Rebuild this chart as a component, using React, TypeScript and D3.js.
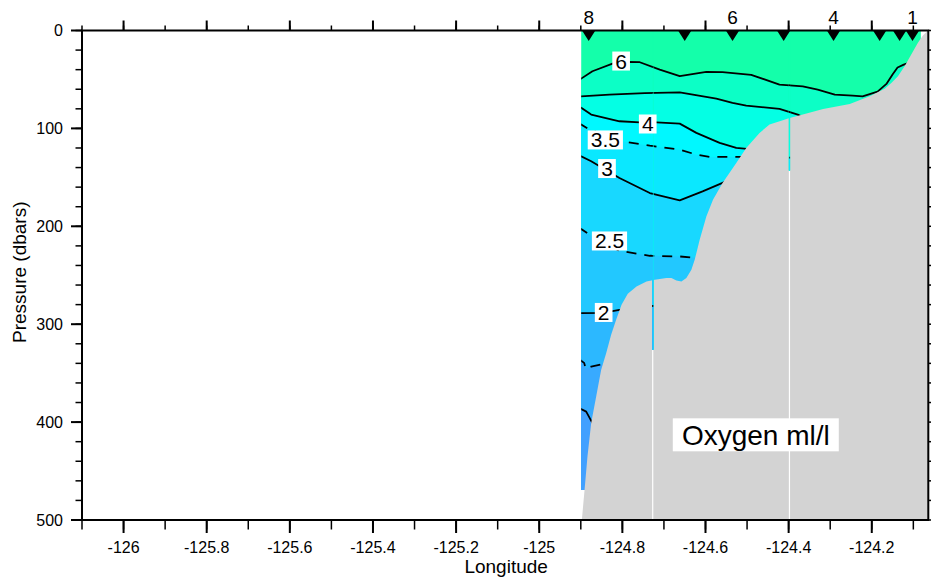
import React from "react";
import * as d3 from "d3";

type Pt = [number, number]; // [longitude, pressure]

// Axis extents
const lonDomain: [number, number] = [-126.1, -124.064];
const pressureDomain: [number, number] = [0, 500];

// CTD stations along the section
const stationLon = [-124.881, -124.65, -124.535, -124.412, -124.292, -124.181, -124.133, -124.102];
const stationId = [8, 7, 6, 5, 4, 3, 2, 1];
const stationLabelled = [8, 6, 4, 1];

// Extent of the gridded section
const sectionLonRange: [number, number] = [-124.899, -124.082];
const sectionMaxPressure = 469.3;

// Oxygen isolines (ml/l), from the offshore edge towards the shelf
const oxygenLevels = [6, 5, 4, 3.5, 3, 2.5, 2, 1.5, 1];

const iso6: Pt[] = [
  [-124.905, 50.5], [-124.899, 49.1], [-124.872, 41.6], [-124.819, 33], [-124.787, 32],
  [-124.758, 32.4], [-124.71, 39.9], [-124.662, 46.7], [-124.598, 42.2], [-124.559, 42.6],
  [-124.49, 45.3], [-124.422, 55.2], [-124.366, 57], [-124.33, 60.3], [-124.289, 65.4],
  [-124.246, 66.5], [-124.222, 67.2], [-124.186, 62.4], [-124.164, 54.2], [-124.15, 45],
  [-124.138, 37.8], [-124.123, 34.8], [-124.109, 32.7],
];
const iso5: Pt[] = [
  [-124.905, 67.5], [-124.831, 65.4], [-124.746, 63.9], [-124.662, 63.1], [-124.574, 69.5],
  [-124.535, 73.9], [-124.502, 76.7], [-124.422, 80.1], [-124.378, 85.9], [-124.369, 87.9],
];
const iso4: Pt[] = [
  [-124.905, 77.5], [-124.899, 79], [-124.875, 85.9], [-124.807, 92.7], [-124.758, 93.8],
  [-124.718, 93.8], [-124.662, 95.1], [-124.622, 104.6], [-124.566, 114.8], [-124.526, 119.9],
  [-124.494, 121.2],
];
const iso35: Pt[] = [
  [-124.905, 94.5], [-124.899, 96.1], [-124.879, 101.2], [-124.799, 113.2], [-124.734, 117.6],
  [-124.662, 121.7], [-124.622, 126.8], [-124.59, 129.1], [-124.518, 129.1], [-124.393, 129.9],
];
const iso3: Pt[] = [
  [-124.905, 127], [-124.899, 128.5], [-124.875, 133.6], [-124.807, 150.6], [-124.734, 166],
  [-124.662, 173.5], [-124.607, 164.3], [-124.559, 155.7], [-124.543, 152.4],
];
const iso25: Pt[] = [
  [-124.905, 201.5], [-124.899, 202.8], [-124.879, 208.6], [-124.807, 225], [-124.734, 230.1],
  [-124.662, 230.8], [-124.621, 232.4], [-124.607, 232.6],
];
const iso2: Pt[] = [
  [-124.905, 288.7], [-124.847, 288.4], [-124.807, 285.3], [-124.758, 282.2], [-124.72, 281.2],
];
const iso15: Pt[] = [
  [-124.905, 335.5], [-124.892, 339.5], [-124.888, 345.6], [-124.875, 343.3], [-124.847, 340.8],
];
const iso1: Pt[] = [
  [-124.905, 385.3], [-124.887, 389.3], [-124.872, 401.1], [-124.865, 407],
];
const isolines = [iso6, iso5, iso4, iso35, iso3, iso25, iso2, iso15, iso1];

// Colour bands between the isolines (ascending oxygen)
const bandBreaks = [1, 1.5, 2, 2.5, 3, 3.5, 4, 5, 6];
const bandColors = [
  "#42a0ff", "#38aaff", "#2cb8ff", "#22c8ff", "#18d8ff",
  "#0ae8ff", "#00f8ff", "#04ffe4", "#0cffc6", "#14ffaa",
];

// Inline contour labels
const contourLabelText = ["6", "4", "3.5", "3", "2.5", "2"];
const contourLabelLon = [-124.803, -124.739, -124.841, -124.837, -124.831, -124.845];
const contourLabelP = [31.2, 95.5, 111.8, 141, 215, 288];

// Sea floor along the section
const bottomProfile: Pt[] = [
  [-124.898, 500], [-124.897, 497.9], [-124.891, 469.3], [-124.884, 435.3], [-124.875, 400.8],
  [-124.863, 373.9], [-124.851, 346.6], [-124.839, 329.6], [-124.827, 310.8], [-124.815, 295.5],
  [-124.802, 280.2], [-124.787, 269], [-124.766, 261.5], [-124.742, 256.3], [-124.722, 254.6],
  [-124.694, 252.9], [-124.682, 252.9], [-124.67, 255.3], [-124.658, 256.3], [-124.646, 252.9],
  [-124.634, 244.4], [-124.626, 234.2], [-124.614, 213.7], [-124.598, 189.9], [-124.582, 172.8],
  [-124.559, 155.7], [-124.526, 135.3], [-124.502, 119.9], [-124.47, 104.6], [-124.446, 96.1],
  [-124.414, 91.7], [-124.398, 89.3], [-124.366, 85.9], [-124.317, 80.1], [-124.253, 75.2],
  [-124.205, 67.2], [-124.169, 59.6], [-124.153, 53.5], [-124.137, 46.7], [-124.121, 36.5],
  [-124.105, 24.5], [-124.089, 12.6], [-124.077, 5.1], [-124.069, 1.7], [-124.064, 0],
  [-124.064, 500],
];

// Single-column gaps in the bottom mask where cast data reaches below it
const castGapLon = [-124.727, -124.398];
const castGapDepth = [326, 143];

const W = 931;
const H = 577;
const FONT = "'Liberation Sans', Arial, Helvetica, sans-serif";

const x = d3.scaleLinear().domain(lonDomain).range([82, 928.3]);
const y = d3.scaleLinear().domain(pressureDomain).range([30.5, 520]);
const band = d3.scaleThreshold<number, string>().domain(bandBreaks).range(bandColors);
const line = d3.line<Pt>().x((d) => x(d[0])).y((d) => y(d[1]));

function bandPath(iso: Pt[]): string {
  const pts: Pt[] = [...iso, [iso[iso.length - 1][0], 500], [iso[0][0], 500]];
  return line(pts) + "Z";
}

function Section() {
  return (
    <g>
      <rect
        x={x(sectionLonRange[0]) - 2}
        y={y(0) - 2}
        width={x(sectionLonRange[1]) - x(sectionLonRange[0]) + 4}
        height={y(sectionMaxPressure) - y(0) + 4}
        fill={band(6.5)}
      />
      {oxygenLevels.map((lvl, i) => (
        <path key={"b" + i} d={bandPath(isolines[i])} fill={band(lvl - 0.01)} />
      ))}
      {oxygenLevels.map((lvl, i) => (
        <path
          key={"l" + i}
          d={line(isolines[i]) || ""}
          fill="none"
          stroke="#000"
          strokeWidth={1.8}
          strokeLinejoin="round"
          strokeDasharray={lvl % 1 !== 0 ? "10 8" : undefined}
        />
      ))}
    </g>
  );
}

export default function App() {
  const x0 = x.range()[0];
  const x1 = x.range()[1];
  const y0 = y.range()[0];
  const y1 = y.range()[1];
  const majorX = x.ticks(10);
  const minorX = x.ticks(20);
  const majorY = y.ticks(5);
  const minorY = y.ticks(25);
  const labelFont = 21;

  return (
    <svg
      width={W}
      height={H}
      style={{ position: "absolute", left: 0, top: 0, background: "#fff" }}
      fontFamily={FONT}
    >
      <defs>
        <clipPath id="sec">
          <rect
            x={x(sectionLonRange[0])}
            y={y(0)}
            width={x(sectionLonRange[1]) - x(sectionLonRange[0])}
            height={y(sectionMaxPressure) - y(0)}
          />
        </clipPath>
        <clipPath id="gaps">
          {castGapLon.map((lon, i) => (
            <rect key={i} x={x(lon) - 0.6} y={y(0)} width={1.2} height={y(castGapDepth[i]) - y(0)} />
          ))}
        </clipPath>
        <clipPath id="plot">
          <rect x={x0} y={y0} width={x1 - x0} height={y1 - y0} />
        </clipPath>
      </defs>

      <g clipPath="url(#sec)">
        <Section />
      </g>

      <g clipPath="url(#plot)">
        <path d={(line(bottomProfile) || "") + "Z"} fill="#d3d3d3" />
        {castGapLon.map((lon, i) => (
          <line
            key={i}
            x1={x(lon)}
            x2={x(lon)}
            y1={y(castGapDepth[i])}
            y2={y(500)}
            stroke="#fff"
            strokeWidth={1.2}
          />
        ))}
      </g>

      <g clipPath="url(#sec)">
        <g clipPath="url(#gaps)">
          <Section />
        </g>
      </g>

      {contourLabelText.map((t, i) => {
        const cx = x(contourLabelLon[i]);
        const cy = y(contourLabelP[i]);
        const wText = t.split("").reduce((s, c) => s + (c === "." ? 0.278 : 0.556), 0) * labelFont;
        return (
          <g key={i}>
            <rect x={cx - wText / 2 - 3} y={cy - 9.5} width={wText + 6} height={19} fill="#fff" />
            <text x={cx} y={cy + 7.5} fontSize={labelFont} textAnchor="middle" fill="#000">
              {t}
            </text>
          </g>
        );
      })}

      <g>
        <rect x={x(-124.479) - 83} y={y(413) - 16.5} width={166} height={33} fill="#fff" />
        <text x={x(-124.479)} y={y(413) + 10.5} fontSize={28} textAnchor="middle" fill="#000">
          Oxygen ml/l
        </text>
      </g>

      {/* axes */}
      <g stroke="#000" strokeWidth={1.5}>
        {minorX.map((v) => (
          <g key={"mx" + v}>
            <line x1={x(v)} x2={x(v)} y1={y0} y2={y0 - 5} />
            <line x1={x(v)} x2={x(v)} y1={y1} y2={y1 + 9.5} />
          </g>
        ))}
        {majorX.map((v) => (
          <g key={"Mx" + v}>
            <line x1={x(v)} x2={x(v)} y1={y0} y2={y0 - 10} strokeWidth={2} />
            <line x1={x(v)} x2={x(v)} y1={y1} y2={y1 + 13} strokeWidth={2} />
          </g>
        ))}
        {minorY.map((v) => (
          <g key={"my" + v}>
            <line x1={x0} x2={x0 - 6.5} y1={y(v)} y2={y(v)} />
            <line x1={x1} x2={x1 + 4} y1={y(v)} y2={y(v)} />
          </g>
        ))}
        {majorY.map((v) => (
          <line key={"My" + v} x1={x0} x2={x0 - 11} y1={y(v)} y2={y(v)} strokeWidth={2} />
        ))}
      </g>
      <rect x={x0} y={y0} width={x1 - x0} height={y1 - y0} fill="none" stroke="#000" strokeWidth={2} />

      <g fontSize={16} fill="#000">
        {majorX.map((v) => (
          <text key={"tx" + v} x={x(v)} y={553} textAnchor="middle">
            {String(+v.toFixed(1))}
          </text>
        ))}
        {majorY.map((v) => (
          <text key={"ty" + v} x={63} y={y(v) + 5.7} textAnchor="end">
            {String(v)}
          </text>
        ))}
      </g>
      <text x={(x0 + x1) / 2 + 1} y={572.5} fontSize={19} textAnchor="middle" fill="#000">
        Longitude
      </text>
      <text
        transform={`translate(26,${(y0 + y1) / 2 - 3}) rotate(-90)`}
        fontSize={19}
        textAnchor="middle"
        fill="#000"
      >
        Pressure (dbars)
      </text>

      {/* stations */}
      {stationLon.map((lon, i) => {
        const sx = x(lon);
        return (
          <g key={"s" + i}>
            <path d={`M${sx - 7},${y0 - 0.5}L${sx + 7},${y0 - 0.5}L${sx},${y0 + 10.5}Z`} fill="#000" />
            {stationLabelled.includes(stationId[i]) && (
              <text x={sx} y={24} fontSize={19} textAnchor="middle" fill="#000">
                {String(stationId[i])}
              </text>
            )}
          </g>
        );
      })}
    </svg>
  );
}
